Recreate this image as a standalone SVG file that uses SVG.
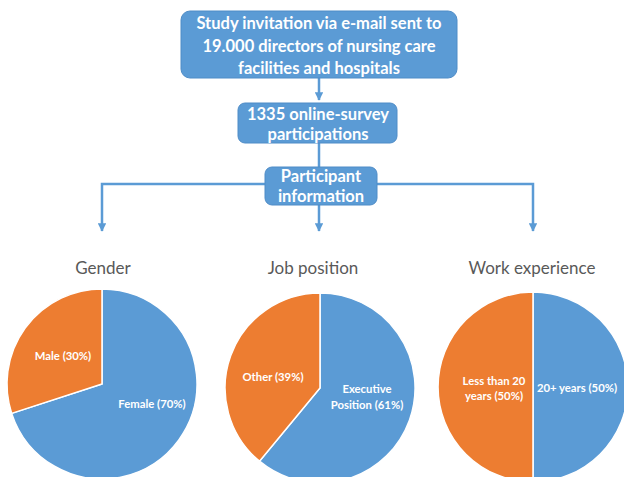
<svg xmlns="http://www.w3.org/2000/svg" width="624" height="477" viewBox="0 0 624 477">
  <style>
    .box { fill: #5B9BD5; stroke: #4F8CC7; stroke-width: 1; }
    .boxtext { font-family: Lato, "Open Sans", "Liberation Sans", sans-serif; font-weight: bold; font-size: 16.5px; fill: #FFFFFF; text-anchor: middle; }
    .conn { fill: none; stroke: #5B9BD5; stroke-width: 2.5; }
    .title { font-family: Lato, "Open Sans", "Liberation Sans", sans-serif; font-size: 17px; fill: #595959; text-anchor: middle; }
    .blue { fill: #5B9BD5; stroke: #FFFFFF; stroke-width: 1.5; }
    .orange { fill: #ED7D31; stroke: #FFFFFF; stroke-width: 1.5; }
    .slice { font-family: Lato, "Open Sans", "Liberation Sans", sans-serif; font-weight: bold; font-size: 11.3px; fill: #FFFFFF; text-anchor: middle; }
  </style>
  <defs>
    <marker id="arrow" viewBox="0 0 10 10" refX="9" refY="5" markerWidth="3.4" markerHeight="3.4" orient="auto" markerUnits="strokeWidth">
      <path d="M0,0 L10,5 L0,10 z" fill="#5B9BD5"/>
    </marker>
  </defs>

  <rect width="624" height="477" fill="#FFFFFF"/>

  <!-- connectors -->
  <g id="connectors">
    <line class="conn" x1="319" y1="78" x2="319" y2="100" marker-end="url(#arrow)"/>
    <line class="conn" x1="319" y1="143" x2="319" y2="167"/>
    <polyline class="conn" points="265,184 102,184 102,231" marker-end="url(#arrow)"/>
    <polyline class="conn" points="377,184 533,184 533,231" marker-end="url(#arrow)"/>
    <line class="conn" x1="319" y1="205" x2="319" y2="231" marker-end="url(#arrow)"/>
  </g>

  <!-- flow boxes -->
  <g id="invitation">
    <rect class="box" x="181" y="11" width="276" height="67" rx="9"/>
    <text class="boxtext" x="319" y="29">Study invitation via e-mail sent to</text>
    <text class="boxtext" x="319" y="52">19.000 directors of nursing care</text>
    <text class="boxtext" x="319" y="74">facilities and hospitals</text>
  </g>
  <g id="participations">
    <rect class="box" x="238" y="103" width="159" height="40" rx="7"/>
    <text class="boxtext" x="318" y="120">1335 online-survey</text>
    <text class="boxtext" x="318" y="140">participations</text>
  </g>
  <g id="participant-info">
    <rect class="box" x="265" y="167" width="112" height="38" rx="7"/>
    <text class="boxtext" x="321" y="182">Participant</text>
    <text class="boxtext" x="321" y="202">information</text>
  </g>

  <!-- Gender pie: female 70%, male 30% -->
  <g id="gender">
    <text class="title" x="103" y="274">Gender</text>
    <path class="blue" d="M102,384 L102,289 A95,95 0 1 1 11.65,413.36 Z"/>
    <path class="orange" d="M102,384 L11.65,413.36 A95,95 0 0 1 102,289 Z"/>
    <text class="slice" x="63" y="360">Male (30%)</text>
    <text class="slice" x="152" y="408">Female (70%)</text>
  </g>

  <!-- Job position pie: executive 61%, other 39% -->
  <g id="job-position">
    <text class="title" x="313" y="274">Job position</text>
    <path class="blue" d="M320,388 L320,293 A95,95 0 1 1 259.5,461.2 Z"/>
    <path class="orange" d="M320,388 L259.5,461.2 A95,95 0 0 1 320,293 Z"/>
    <text class="slice" x="273" y="381">Other (39%)</text>
    <text class="slice" x="367" y="393">Executive</text>
    <text class="slice" x="367" y="409">Position (61%)</text>
  </g>

  <!-- Work experience pie: 50% / 50% -->
  <g id="work-experience">
    <text class="title" x="532" y="274">Work experience</text>
    <path class="blue" d="M533,387 L533,292 A95,95 0 0 1 533,482 Z"/>
    <path class="orange" d="M533,387 L533,482 A95,95 0 0 1 533,292 Z"/>
    <text class="slice" x="494" y="385">Less than 20</text>
    <text class="slice" x="494" y="400">years (50%)</text>
    <text class="slice" x="577" y="392">20+ years (50%)</text>
  </g>
</svg>
